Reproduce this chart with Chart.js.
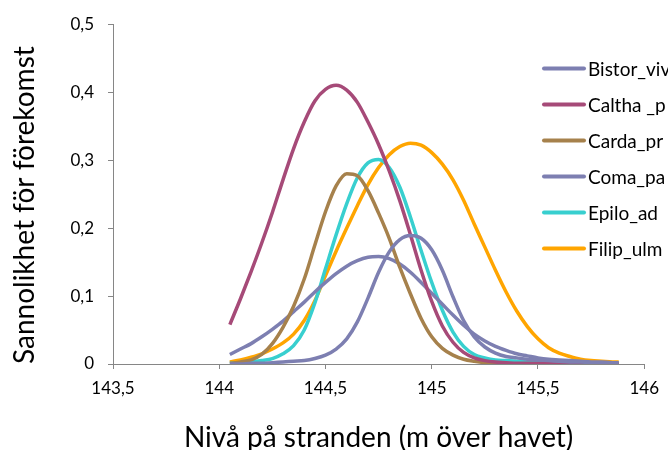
<!DOCTYPE html>
<html>
<head>
<meta charset="utf-8">
<script src="https://cdn.jsdelivr.net/npm/chart.js@4/dist/chart.umd.min.js"></script>
<style>
  html, body { margin: 0; padding: 0; background: #ffffff; }
  canvas { display: block; }
</style>
</head>
<body>
<canvas id="chart" width="668" height="450"></canvas>
<script>
// Shore level (m above sea level) at which each probability was computed
const levels = [
  144.05, 144.10, 144.15, 144.20, 144.25, 144.30, 144.35, 144.40, 144.45, 144.50,
  144.55, 144.60, 144.65, 144.70, 144.75, 144.80, 144.85, 144.90, 144.95, 145.00,
  145.05, 145.10, 145.15, 145.20, 145.25, 145.30, 145.35, 145.40, 145.45, 145.50,
  145.55, 145.60, 145.65, 145.70, 145.75, 145.80, 145.85, 145.88
];

// Probability of occurrence per species
const bistorViv = [
  0.000, 0.000, 0.001, 0.001, 0.002, 0.003, 0.004, 0.005, 0.008, 0.013,
  0.022, 0.037, 0.062, 0.097, 0.135, 0.165, 0.183, 0.189, 0.185, 0.168,
  0.138, 0.099, 0.064, 0.040, 0.025, 0.016, 0.011, 0.009, 0.007, 0.006,
  0.005, 0.004, 0.003, 0.003, 0.002, 0.002, 0.001, 0.001
];
const calthaP = [
  0.058, 0.096, 0.136, 0.178, 0.223, 0.271, 0.317, 0.356, 0.387, 0.404,
  0.410, 0.403, 0.385, 0.356, 0.323, 0.284, 0.240, 0.190, 0.138, 0.092,
  0.056, 0.032, 0.017, 0.009, 0.005, 0.003, 0.002, 0.001, 0.001, 0.001,
  0.001, 0.000, 0.000, 0.000, 0.000, 0.000, 0.000, 0.000
];
const cardaPr = [
  0.001, 0.003, 0.006, 0.014, 0.030, 0.054, 0.085, 0.125, 0.175, 0.224,
  0.262, 0.280, 0.277, 0.255, 0.222, 0.185, 0.142, 0.103, 0.067, 0.040,
  0.023, 0.013, 0.007, 0.004, 0.002, 0.001, 0.000, 0.000, 0.000, 0.000,
  0.000, 0.000, 0.000, 0.000, 0.000, 0.000, 0.000, 0.000
];
const comaPa = [
  0.014, 0.022, 0.030, 0.040, 0.051, 0.063, 0.077, 0.091, 0.106, 0.120,
  0.133, 0.144, 0.152, 0.157, 0.158, 0.155, 0.147, 0.135, 0.120, 0.104,
  0.088, 0.072, 0.057, 0.044, 0.034, 0.026, 0.020, 0.015, 0.012, 0.009,
  0.007, 0.006, 0.005, 0.004, 0.003, 0.003, 0.002, 0.002
];
const epiloAd = [
  0.001, 0.002, 0.003, 0.005, 0.008, 0.015, 0.027, 0.050, 0.090, 0.140,
  0.190, 0.236, 0.274, 0.296, 0.301, 0.289, 0.260, 0.216, 0.167, 0.120,
  0.079, 0.047, 0.026, 0.014, 0.009, 0.006, 0.005, 0.004, 0.003, 0.003,
  0.002, 0.002, 0.002, 0.001, 0.001, 0.001, 0.001, 0.001
];
const filipUlm = [
  0.003, 0.006, 0.010, 0.015, 0.022, 0.031, 0.044, 0.064, 0.093, 0.130,
  0.166, 0.200, 0.233, 0.264, 0.289, 0.308, 0.320, 0.325, 0.322, 0.311,
  0.294, 0.271, 0.241, 0.206, 0.172, 0.138, 0.106, 0.078, 0.055, 0.037,
  0.024, 0.016, 0.011, 0.007, 0.005, 0.004, 0.003, 0.003
];

const speciesNames = ['Bistor_viv', 'Caltha _p', 'Carda_pr', 'Coma_pa', 'Epilo_ad', 'Filip_ulm'];
const speciesValues = [bistorViv, calthaP, cardaPr, comaPa, epiloAd, filipUlm];
const speciesColors = ['#7d7fb1', '#a64a78', '#a6814c', '#7d7fb1', '#38cfcf', '#ffa500'];

// Axis tick labels (Swedish decimal comma)
const xTickLabels = ['143,5', '144', '144,5', '145', '145,5', '146'];
const yTickLabels = ['0', '0,1', '0,2', '0,3', '0,4', '0,5'];

const xTitle = 'Nivå på stranden (m över havet)';
const yTitle = 'Sannolikhet för förekomst';

const FONT = 'Lato, "Open Sans", sans-serif';
const AXIS_COLOR = '#868686';

// Legend drawn over the right-hand part of the plot
const sideLegend = {
  id: 'sideLegend',
  afterDraw(chart) {
    const ctx = chart.ctx;
    ctx.save();
    ctx.font = '19px ' + FONT;
    ctx.textBaseline = 'middle';
    ctx.textAlign = 'left';
    chart.data.datasets.forEach((ds, i) => {
      const y = 68.5 + i * 36;
      ctx.strokeStyle = ds.borderColor;
      ctx.lineWidth = 4;
      ctx.lineCap = 'round';
      ctx.beginPath();
      ctx.moveTo(544, y);
      ctx.lineTo(584, y);
      ctx.stroke();
      ctx.fillStyle = '#000000';
      ctx.fillText(ds.label, 588, y + 1);
    });
    ctx.restore();
  }
};

new Chart(document.getElementById('chart'), {
  type: 'line',
  data: {
    datasets: speciesNames.map((name, k) => ({
      label: name,
      data: levels.map((x, i) => ({ x: x, y: speciesValues[k][i] })),
      borderColor: speciesColors[k],
      backgroundColor: speciesColors[k],
      borderWidth: 3.5,
      pointRadius: 0,
      fill: false,
      cubicInterpolationMode: 'monotone'
    }))
  },
  options: {
    responsive: false,
    animation: false,
    devicePixelRatio: 1,
    layout: { padding: { top: 14, right: 19, left: 0, bottom: 0 } },
    plugins: {
      legend: { display: false },
      tooltip: { enabled: false }
    },
    scales: {
      x: {
        type: 'linear',
        min: 143.5,
        max: 146,
        ticks: {
          stepSize: 0.5,
          autoSkip: false,
          maxRotation: 0,
          padding: 9,
          color: '#000000',
          font: { family: FONT, size: 17 },
          callback: (v, i) => xTickLabels[i]
        },
        grid: { drawOnChartArea: false, drawTicks: true, tickLength: 5, color: AXIS_COLOR },
        border: { display: true, color: AXIS_COLOR, width: 1 },
        title: {
          display: true,
          text: xTitle,
          color: '#000000',
          font: { family: FONT, size: 28, lineHeight: 1 },
          padding: { top: 0, bottom: -2 }
        },
        afterFit: (scale) => { scale.height = 86; }
      },
      y: {
        type: 'linear',
        min: 0,
        max: 0.5,
        ticks: {
          stepSize: 0.1,
          padding: 14,
          color: '#000000',
          font: { family: FONT, size: 17 },
          callback: (v, i) => yTickLabels[i]
        },
        grid: { drawOnChartArea: false, drawTicks: true, tickLength: 5, color: AXIS_COLOR },
        border: { display: true, color: AXIS_COLOR, width: 1 },
        title: {
          display: true,
          text: yTitle,
          align: 'start',
          color: '#000000',
          font: { family: FONT, size: 28, lineHeight: 1 },
          padding: { top: 11, bottom: 0 }
        },
        afterFit: (scale) => { scale.width = 113; }
      }
    }
  },
  plugins: [sideLegend]
});
</script>
</body>
</html>
